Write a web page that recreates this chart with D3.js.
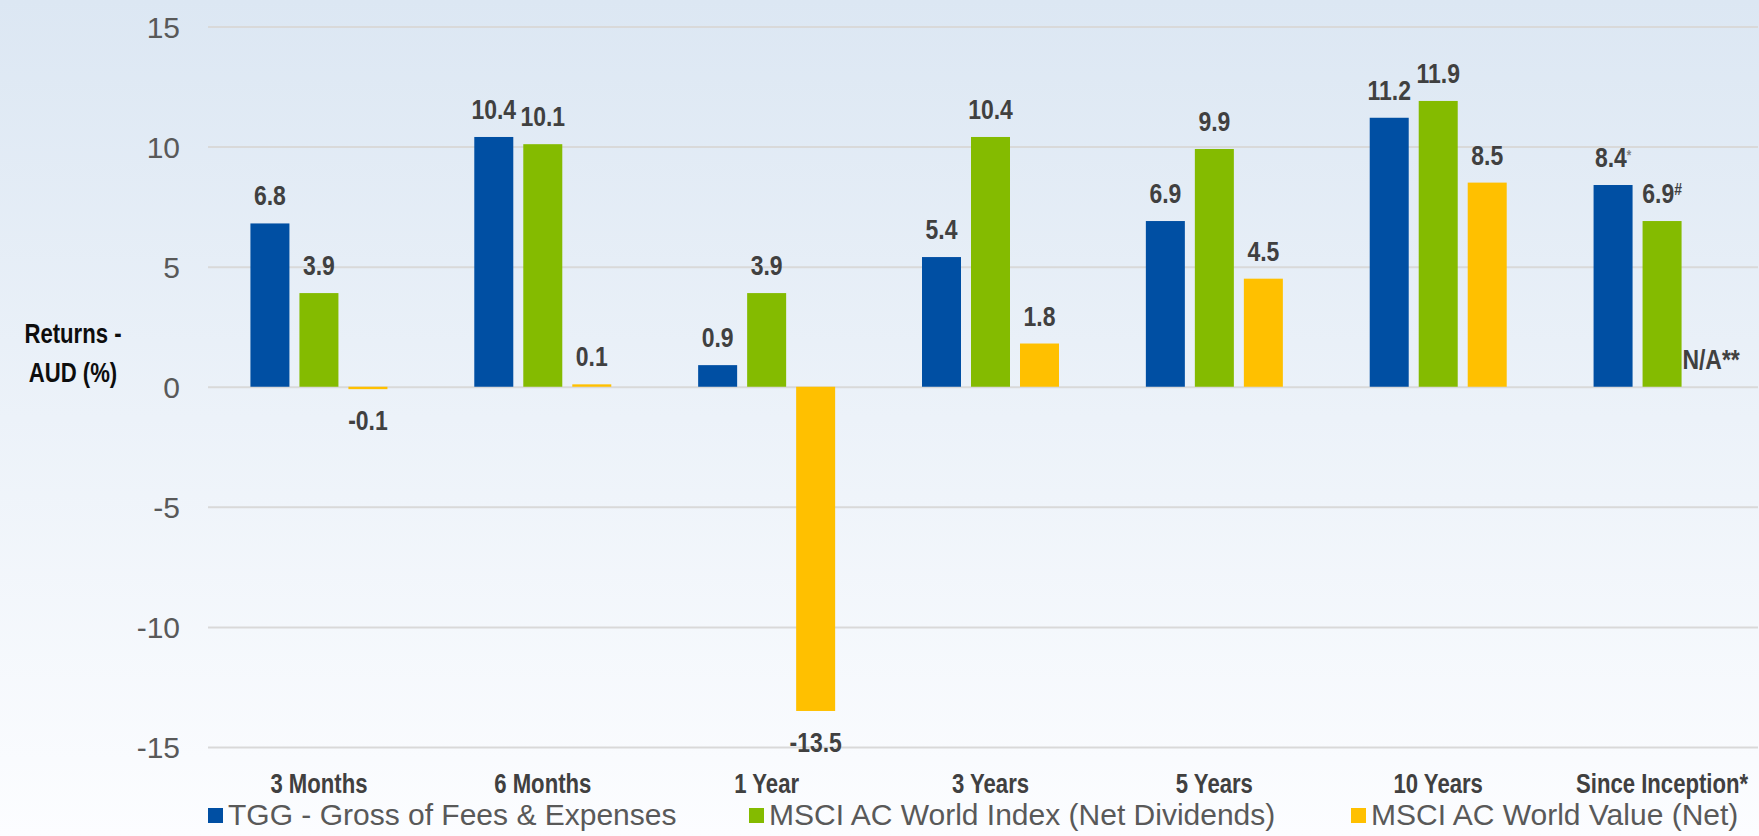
<!DOCTYPE html>
<html>
<head>
<meta charset="utf-8">
<script src="https://cdn.jsdelivr.net/npm/d3@7"></script>
<style>
  html, body { margin: 0; padding: 0; overflow: hidden; }
  #chart { width: 1759px; height: 836px; }
</style>
</head>
<body>
<div id="chart"></div>
<script>
// Returns by period, three series, values in AUD %.

const categories = ["3 Months", "6 Months", "1 Year", "3 Years", "5 Years", "10 Years", "Since Inception*"];
const seriesNames = ["TGG - Gross of Fees & Expenses", "MSCI AC World Index (Net Dividends)", "MSCI AC World Value (Net)"];
const tggValues = [6.8, 10.4, 0.9, 5.4, 6.9, 11.2, 8.4];
const worldValues = [3.9, 10.1, 3.9, 10.4, 9.9, 11.9, 6.9];
const worldValueValues = [-0.1, 0.1, -13.5, 1.8, 4.5, 8.5, null];
const yTicks = [-15, -10, -5, 0, 5, 10, 15];
// footnote marks on the "Since Inception" labels
const inceptionMarks = ["*", "#", ""];
const naLabel = "N/A**";

const seriesColors = ["#004fa3", "#84bb00", "#ffc000"];
const seriesValues = [tggValues, worldValues, worldValueValues];

const width = 1759;
const height = 836;
const margin = { top: 26.5, left: 207, bottom: 89 };
const innerHeight = height - margin.top - margin.bottom;

// narrow bold font, fall back to squeezing the regular one
function hasFont(name) {
  const c = document.createElement("canvas").getContext("2d");
  c.font = "40px monospace";
  const a = c.measureText("10 Years WMi").width;
  c.font = `40px '${name}', monospace`;
  const b = c.measureText("10 Years WMi").width;
  return a !== b;
}
const narrowOK = hasFont("Liberation Sans Narrow");
const NARROW = narrowOK ? "'Liberation Sans Narrow', 'Arial Narrow', sans-serif" : "'Liberation Sans', Arial, sans-serif";
const squeeze = narrowOK ? 1 : 0.82;
const REGULAR = "'Liberation Sans', Arial, sans-serif";

const svg = d3.select("#chart")
  .append("svg")
  .attr("width", width)
  .attr("height", height);

const defs = svg.append("defs");
const bg = defs.append("linearGradient")
  .attr("id", "bg")
  .attr("x1", "0%").attr("x2", "0%")
  .attr("y1", "0%").attr("y2", "100%");
bg.append("stop").attr("offset", "0%").attr("stop-color", "#dce7f3");
bg.append("stop").attr("offset", "100%").attr("stop-color", "#fcfdff");

svg.append("rect")
  .attr("width", width)
  .attr("height", height)
  .style("fill", "url(#bg)");

const g = svg.append("g")
  .attr("transform", `translate(${margin.left},${margin.top})`);

const x = d3.scaleBand().domain(categories).range([0, 1567]).padding(0);
const xSub = d3.scaleBand().domain([0, 1, 2]).range([-68.5, 68.5]).paddingInner(10 / 49).paddingOuter(0);
const y = d3.scaleLinear().domain([-15, 15]).range([innerHeight, 0]);

// gridlines + tick labels from the axis
const yAxis = d3.axisLeft(y)
  .tickValues(yTicks)
  .tickFormat((d) => String(d))
  .tickSize(-(width - margin.left - 2))
  .tickPadding(28);
const yAxisG = g.append("g").attr("transform", "translate(1,0)").call(yAxis);
yAxisG.select(".domain").remove();
yAxisG.selectAll(".tick line")
  .attr("stroke", "#d9d9d9")
  .attr("stroke-width", 2);
yAxisG.selectAll(".tick text")
  .attr("fill", "#595959")
  .attr("dy", "0.36em")
  .style("font-family", REGULAR)
  .style("font-size", "30px");

// bars
const bars = [];
categories.forEach((c, i) => {
  seriesValues.forEach((vals, s) => {
    bars.push({ cat: c, s, value: vals[i], i });
  });
});

g.selectAll("rect.bar")
  .data(bars.filter((d) => d.value != null))
  .enter()
  .append("rect")
  .attr("class", "bar")
  .attr("x", (d) => x(d.cat) + x.bandwidth() / 2 + xSub(d.s))
  .attr("y", (d) => y(Math.max(0, d.value)))
  .attr("width", xSub.bandwidth())
  .attr("height", (d) => Math.abs(y(d.value) - y(0)))
  .style("fill", (d) => seriesColors[d.s]);

function squeezed(sel, px, py) {
  return sel.attr("transform", `translate(${px},${py}) scale(${squeeze},1)`);
}

// value labels
const labels = g.selectAll("text.val")
  .data(bars)
  .enter()
  .append("text")
  .attr("class", "val")
  .attr("text-anchor", "middle")
  .attr("fill", "#404040")
  .style("font-family", NARROW)
  .style("font-weight", "bold")
  .style("font-size", "28px")
  .each(function (d) {
    const cx = x(d.cat) + x.bandwidth() / 2 + xSub(d.s) + xSub.bandwidth() / 2;
    const v = d.value == null ? 0 : d.value;
    const py = v >= 0 ? y(v) - 18 : y(v) + 41;
    squeezed(d3.select(this), cx, py);
  });

labels.each(function (d) {
  const t = d3.select(this);
  const last = d.i === categories.length - 1;
  if (d.value == null) {
    t.text(naLabel);
    return;
  }
  t.append("tspan").text(d.value.toFixed(1));
  if (last && inceptionMarks[d.s]) {
    t.append("tspan")
      .attr("dy", "-0.5em")
      .attr("fill", d.s === 0 ? "#7f7f7f" : "#404040")
      .style("font-size", d.s === 0 ? "14px" : "17px")
      .text(inceptionMarks[d.s]);
  }
});

// category labels
g.selectAll("text.cat")
  .data(categories)
  .enter()
  .append("text")
  .attr("class", "cat")
  .attr("text-anchor", "middle")
  .attr("fill", "#404040")
  .style("font-family", NARROW)
  .style("font-weight", "bold")
  .style("font-size", "27px")
  .text((d) => d)
  .each(function (d) {
    squeezed(d3.select(this), x(d) + x.bandwidth() / 2, 793 - margin.top);
  });

// y axis title
const yTitle = svg.append("text")
  .attr("text-anchor", "middle")
  .attr("fill", "#0d0d0d")
  .style("font-family", NARROW)
  .style("font-weight", "bold")
  .style("font-size", "27px");
squeezed(yTitle, 73, 343);
yTitle.append("tspan").attr("x", 0).attr("y", 0).text("Returns -");
yTitle.append("tspan").attr("x", 0).attr("y", 39).text("AUD (%)");

// legend
const legendPos = [208, 749, 1351];
const legend = svg.append("g").attr("transform", "translate(0,825)");
const items = legend.selectAll("g")
  .data(seriesNames)
  .enter()
  .append("g")
  .attr("transform", (d, i) => `translate(${legendPos[i]},0)`);

items.append("rect")
  .attr("x", 0)
  .attr("y", -17)
  .attr("width", 15)
  .attr("height", 15)
  .style("fill", (d, i) => seriesColors[i]);

items.append("text")
  .attr("x", 20)
  .attr("y", 0)
  .attr("fill", "#595959")
  .style("font-family", REGULAR)
  .style("font-size", "30px")
  .text((d) => d);
</script>
</body>
</html>
